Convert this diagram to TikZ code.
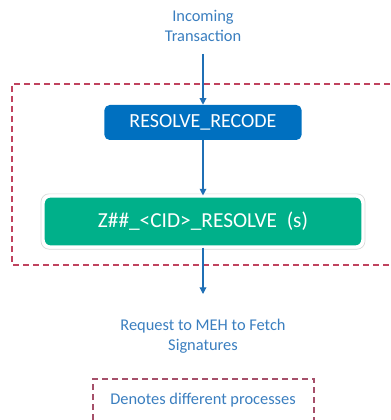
\documentclass[tikz,border=0pt]{standalone}
\usepackage{fontspec}
\setmainfont{Carlito}
\usetikzlibrary{arrows.meta,calc}
\definecolor{txtblue}{HTML}{3A7EBF}
\definecolor{boxblue}{HTML}{0070C0}
\definecolor{boxgreen}{HTML}{00B08A}
\definecolor{dashred}{HTML}{C0435E}
\definecolor{legred}{HTML}{A5506A}
\definecolor{arrowblue}{HTML}{1F6FB5}
\tikzset{
  lbl/.style={text=txtblue, align=center, font=\fontsize{12.3}{15}\selectfont},
  procbox/.style={fill=boxblue, rounded corners=4pt, text=white,
    minimum width=148pt, minimum height=26.25pt, font=\fontsize{15}{18}\selectfont},
  resbox/.style={fill=boxgreen, draw=white, line width=1.6pt, rounded corners=5pt, text=white,
    minimum width=239pt, minimum height=37.5pt, font=\fontsize{16}{18}\selectfont},
  flow/.style={draw=arrowblue, line width=0.9pt, -{Triangle[length=5pt,width=5pt]}},
  groupbox/.style={draw=dashred, line width=1pt, dash pattern=on 4.5pt off 3pt},
}
\begin{document}
\begin{tikzpicture}[x=0.75pt, y=-0.75pt]
  \useasboundingbox (0,0) rectangle (390,420);
  % process group frame (runs off the right edge)
  \draw[groupbox] (400,84) -- (12,84) -- (12,265) -- (400,265);
  \node[lbl] (inc) at (203,26) {Incoming\\Transaction};
  \node[procbox] (rr) at (203,122.5) {RESOLVE\_RECODE};
  \node[resbox] (zr) at (203,221.5) {Z\#\#\_<CID>\_RESOLVE\ \ (s)};
  \draw[draw=black!15, line width=0.5pt, rounded corners=6pt]
    ($(zr.south west)+(-1.6,1.6)$) rectangle ($(zr.north east)+(1.6,-1.6)$);
  \node[lbl] (req) at (203,336) {Request to MEH to Fetch\\Signatures};
  \coordinate (inctop) at (203,54);
  \coordinate (reqtop) at (203,294);
  \draw[flow] (inctop) -- (rr.north);
  \draw[flow] (rr.south) -- (zr.north);
  \draw[flow] (zr.south) -- (reqtop);
  % legend
  \draw[draw=legred, line width=1pt, dash pattern=on 4.5pt off 3pt]
    (93,430) -- (93,379) -- (314,379) -- (314,430);
  \node[lbl] (leg) at (203,400) {Denotes different processes};
\end{tikzpicture}
\end{document}
